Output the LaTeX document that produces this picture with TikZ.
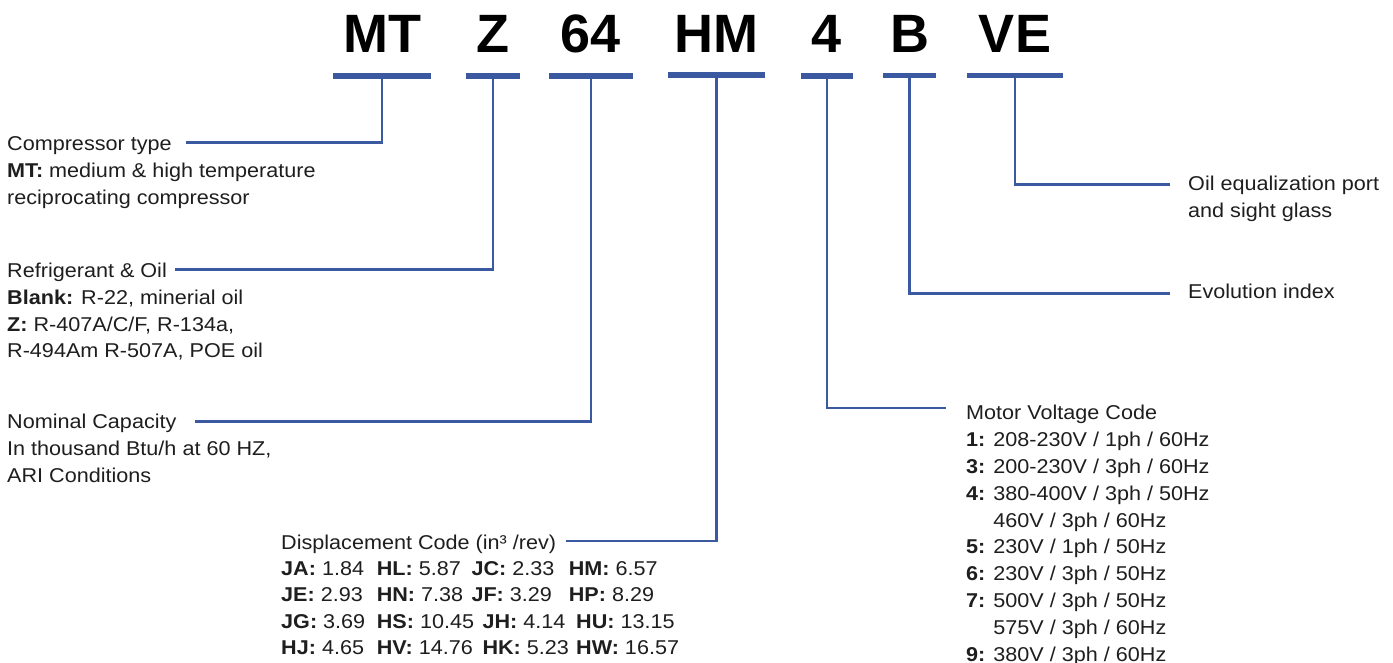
\documentclass[tikz,border=0pt]{standalone}
\usepackage{fontspec}
\setmainfont{Liberation Sans}[FakeStretch=1.08]
\newfontfamily\titlefont{Liberation Sans}
\definecolor{lineblue}{RGB}{59,89,160}
\definecolor{txt}{RGB}{30,30,30}
\begin{document}
\begin{tikzpicture}[x=1pt,y=-1pt,
  bar/.style={fill=lineblue, inner sep=0pt, minimum height=5.5pt, draw=none},
  code/.style={font=\titlefont\bfseries\fontsize{54}{54}\selectfont, anchor=base, inner sep=0pt},
  desc/.style={font=\fontsize{20}{26.8}\selectfont, anchor=base west, align=left, inner sep=0pt, text=txt},
  conn/.style={draw=lineblue, line width=2.5pt}]
\useasboundingbox (0,0) rectangle (1393,663);

% code letters
\node[code] (tMT) at (382,53) {MT};
\node[code] (tZ) at (493,53) {Z};
\node[code] (t64) at (591,53) {64};
\node[code] (tHM) at (716.5,53) {HM};
\node[code] (t4) at (827,53) {4};
\node[code] (tB) at (909.5,53) {B};
\node[code] (tVE) at (1015,53) {VE};

% bars
\node[bar, minimum width=98pt] (bMT) at (382,76) {};
\node[bar, minimum width=54pt] (bZ) at (493,76) {};
\node[bar, minimum width=84pt] (b64) at (591,76) {};
\node[bar, minimum width=97pt] (bHM) at (716.5,75) {};
\node[bar, minimum width=52pt] (b4) at (827,76) {};
\node[bar, minimum width=53pt] (bB) at (909.5,75.5) {};
\node[bar, minimum width=96pt] (bVE) at (1015,75.5) {};

% descriptions (base anchor = baseline of the last line)
\node[desc] (dMT) at (7,204.3) {Compressor type\\\textbf{MT:} medium \& high temperature\\reciprocating compressor};
\node[desc] (dZ) at (7,357.9) {Refrigerant \& Oil\\\textbf{Blank:} R-22, minerial oil\\\textbf{Z:} R-407A/C/F, R-134a,\\R-494Am R-507A, POE oil};
\node[desc] (d64) at (7,482.1) {Nominal Capacity\\In thousand Btu/h at 60 HZ,\\ARI Conditions};
\node[desc, font=\fontsize{20}{26.2}\selectfont] (dHM) at (281,654.3) {Displacement Code (in³ /rev)\\
\makebox[95.6pt][l]{\textbf{JA:} 1.84}\makebox[94.7pt][l]{\textbf{HL:} 5.87}\makebox[97.3pt][l]{\textbf{JC:} 2.33}\textbf{HM:} 6.57\\
\makebox[95.6pt][l]{\textbf{JE:} 2.93}\makebox[94.7pt][l]{\textbf{HN:} 7.38}\makebox[97.3pt][l]{\textbf{JF:} 3.29}\textbf{HP:} 8.29\\
\makebox[95.6pt][l]{\textbf{JG:} 3.69}\makebox[105.7pt][l]{\textbf{HS:} 10.45}\makebox[93.7pt][l]{\textbf{JH:} 4.14}\textbf{HU:} 13.15\\
\makebox[95.6pt][l]{\textbf{HJ:} 4.65}\makebox[105.7pt][l]{\textbf{HV:} 14.76}\makebox[93.7pt][l]{\textbf{HK:} 5.23}\textbf{HW:} 16.57};
\node[desc] (d4) at (966,661) {Motor Voltage Code\\
\textbf{1:} 208-230V / 1ph / 60Hz\\
\textbf{3:} 200-230V / 3ph / 60Hz\\
\textbf{4:} 380-400V / 3ph / 50Hz\\
\phantom{\textbf{4:} }460V / 3ph / 60Hz\\
\textbf{5:} 230V / 1ph / 50Hz\\
\textbf{6:} 230V / 3ph / 50Hz\\
\textbf{7:} 500V / 3ph / 50Hz\\
\phantom{\textbf{7:} }575V / 3ph / 60Hz\\
\textbf{9:} 380V / 3ph / 60Hz};
\node[desc] (dB) at (1188,298.5) {Evolution index};
\node[desc] (dVE) at (1188,217.3) {Oil equalization port\\and sight glass};

% connector ends
\coordinate (eMT) at (186,142.5);
\coordinate (eZ) at (175,269.5);
\coordinate (e64) at (195,421.5);
\coordinate (eHM) at (566,541);
\coordinate (e4) at (946,408);
\coordinate (eB) at (1170,293.5);
\coordinate (eVE) at (1170,184.5);

% connectors
\draw[conn] (bMT.south) |- (eMT);
\draw[conn] (bZ.south) |- (eZ);
\draw[conn] (b64.south) |- (e64);
\draw[conn] (bHM.south) |- (eHM);
\draw[conn] (b4.south) |- (e4);
\draw[conn] (bB.south) |- (eB);
\draw[conn] (bVE.south) |- (eVE);
\end{tikzpicture}
\end{document}
